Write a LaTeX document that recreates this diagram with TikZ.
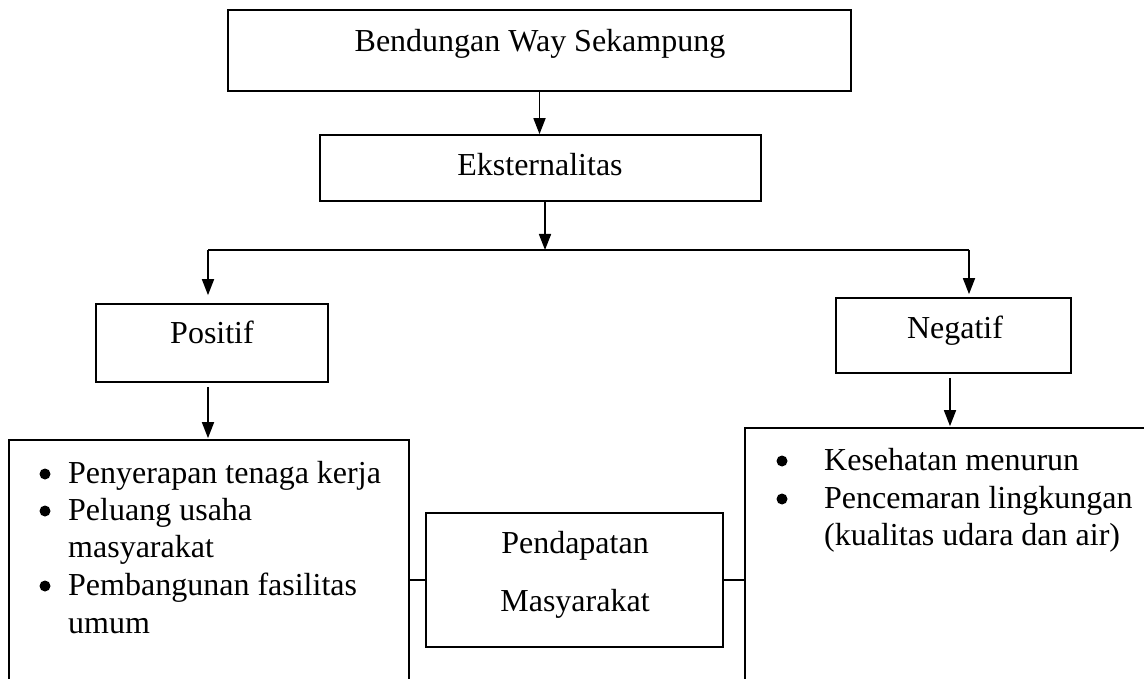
\documentclass[tikz,border=0pt]{standalone}
\usepackage{fontspec}
\setmainfont{Liberation Serif}
\usetikzlibrary{arrows.meta}
\begin{document}
\begin{tikzpicture}[x=1pt,y=-1pt,
  box/.style={draw, line width=1.7pt, inner sep=0pt},
  ln/.style={line width=1.7pt},
  arr/.style={line width=1.7pt, -{Triangle[length=16pt,width=12pt]}},
  dot/.style={circle, fill, inner sep=0pt, minimum size=11pt},
  txt/.style={anchor=base, inner sep=0pt, font=\fontsize{32}{38}\selectfont},
  txtl/.style={anchor=base west, inner sep=0pt, font=\fontsize{32}{38}\selectfont}]
\useasboundingbox (0,0) rectangle (1144,679);
% boxes
\node[box, minimum width=623pt, minimum height=81pt] (top) at (539.5,50.5) {};
\node[box, minimum width=441pt, minimum height=66pt] (eks) at (540.5,168) {};
\node[box, minimum width=232pt, minimum height=78pt] (pos) at (212,343) {};
\node[box, minimum width=235pt, minimum height=75pt] (neg) at (953.5,335.5) {};
\node[box, minimum width=400pt, minimum height=280pt] (lbox) at (209,580) {};
\node[box, minimum width=435pt, minimum height=292pt] (rbox) at (962.5,574) {};
\node[box, minimum width=297pt, minimum height=134pt] (pend) at (574.5,580) {};
% texts
\node[txt] (ttop) at (540,52) {Bendungan Way Sekampung};
\node[txt] (teks) at (540,176) {Eksternalitas};
\node[txt] (tpos) at (212,343) {Positif};
\node[txt] (tneg) at (955,338) {Negatif};
\node[txt] (tp1) at (575,553) {Pendapatan};
\node[txt] (tp2) at (575,611) {Masyarakat};
% left list
\node[dot] (lb1) at (45,474) {};
\node[txtl] (l1) at (68,483) {Penyerapan tenaga kerja};
\node[dot] (lb2) at (45,511) {};
\node[txtl] (l2) at (68,520) {Peluang usaha};
\node[txtl] (l3) at (68,557) {masyarakat};
\node[dot] (lb4) at (45,586) {};
\node[txtl] (l4) at (68,595) {Pembangunan fasilitas};
\node[txtl] (l5) at (68,633) {umum};
% right list
\node[dot] (rb1) at (782,461) {};
\node[txtl] (r1) at (824,470) {Kesehatan menurun};
\node[dot] (rb2) at (782,499) {};
\node[txtl] (r2) at (824,508) {Pencemaran lingkungan};
\node[txtl] (r3) at (824,545) {(kualitas udara dan air)};
% connectors
\coordinate (jl) at (208,250);
\coordinate (jr) at (969,250);
\coordinate (jm) at (545,250);
\draw[arr] (top.south) -- (top.south |- eks.north);
\draw[arr] (eks.south -| jm) -- (jm);
\draw[ln] (jl) -- (jr);
\draw[arr, shorten >=8pt] (jl) -- (jl |- pos.north);
\draw[arr, shorten >=3pt] (jr) -- (jr |- neg.north);
\draw[arr, shorten <=4pt, shorten >=1pt] (pos.south -| jl) -- (lbox.north -| jl);
\draw[arr, shorten <=4pt, shorten >=1pt] ([xshift=-3.5pt]neg.south) -- ([xshift=-3.5pt]neg.south |- rbox.north);
\draw[ln] (pend.west) -- (pend.west -| lbox.east);
\draw[ln] (pend.east) -- (pend.east -| rbox.west);
\end{tikzpicture}
\end{document}
